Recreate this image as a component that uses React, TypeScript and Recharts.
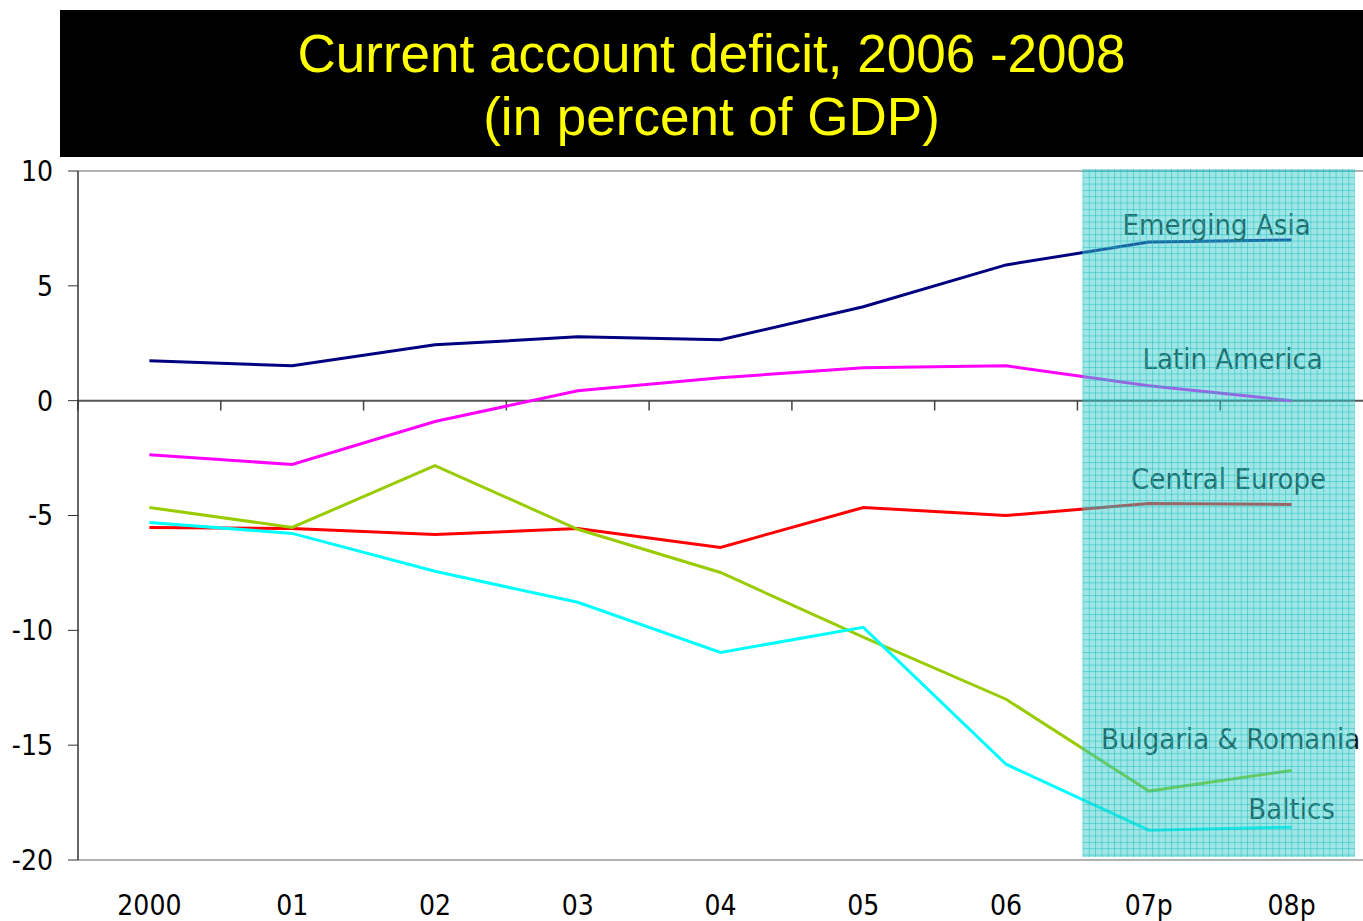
import React from "react";
import {
  LineChart,
  Line,
  XAxis,
  YAxis,
  ReferenceLine,
  ReferenceArea,
  ReferenceDot,
} from "recharts";

const categories = ["2000", "01", "02", "03", "04", "05", "06", "07p", "08p"];
const emergingAsia = [1.74, 1.52, 2.43, 2.78, 2.65, 4.09, 5.91, 6.91, 7.0];
const latinAmerica = [-2.35, -2.78, -0.91, 0.43, 1.0, 1.43, 1.52, 0.65, 0.0];
const centralEurope = [-5.52, -5.57, -5.83, -5.57, -6.39, -4.65, -5.0, -4.48, -4.52];
const bulgariaRomania = [-4.65, -5.52, -2.83, -5.6, -7.48, -10.3, -13.0, -17.0, -16.1];
const baltics = [-5.3, -5.78, -7.43, -8.78, -10.96, -9.87, -15.83, -18.7, -18.57];
const yTicks = [10, 5, 0, -5, -10, -15, -20];

const data = categories.map((c, i) => ({
  cat: c,
  asia: emergingAsia[i],
  latam: latinAmerica[i],
  ce: centralEurope[i],
  br: bulgariaRomania[i],
  baltics: baltics[i],
}));

// series name labels, anchored on the last category
const seriesLabels = [
  { text: "Emerging Asia", y: 7.65, dx: -75 },
  { text: "Latin America", y: 1.83, dx: -59 },
  { text: "Central Europe", y: -3.39, dx: -63 },
  { text: "Bulgaria & Romania", y: -14.74, dx: -61 },
  { text: "Baltics", y: -17.78, dx: 0 },
];

const FONT = "'DejaVu Sans Condensed', 'DejaVu Sans', sans-serif";

export default function App() {
  return (
    <div style={{ position: "absolute", left: 0, top: 0, width: 1363, height: 921, background: "#fff" }}>
      <div
        style={{
          position: "absolute",
          left: 60,
          top: 10,
          width: 1303,
          height: 147,
          background: "#000",
          color: "#ffff00",
          fontFamily: "'Liberation Sans', Arial, sans-serif",
          fontSize: 53,
          lineHeight: "63px",
          textAlign: "center",
          paddingTop: 12,
          boxSizing: "border-box",
          zIndex: 2,
        }}
      >
        Current account deficit, 2006 -2008
        <br />
        (in percent of GDP)
      </div>
      <LineChart
        width={1363}
        height={921}
        data={data}
        margin={{ top: 171, right: 0, bottom: 0, left: 0 }}
      >
        <defs>
          <pattern id="shade" width={6.33} height={6.33} patternUnits="userSpaceOnUse">
            <rect x={0} y={0} width={6.33} height={6.33} fill="rgba(55,202,202,0.47)" />
            <line x1={0} y1={0.5} x2={6.33} y2={0.5} stroke="rgba(20,190,190,0.5)" strokeWidth={1} />
            <line x1={0.5} y1={0} x2={0.5} y2={6.33} stroke="rgba(20,190,190,0.5)" strokeWidth={1} />
          </pattern>
        </defs>
        <XAxis
          dataKey="cat"
          scale="band"
          height={61}
          axisLine={false}
          tickLine={false}
          tickSize={0}
          tickMargin={35}
          interval={0}
          tick={{ fontSize: 28, fill: "#000", fontFamily: FONT, fontStretch: "condensed" }}
        />
        <YAxis
          width={78}
          domain={[-20, 10]}
          ticks={yTicks}
          interval={0}
          axisLine={{ stroke: "#333", strokeWidth: 1.5 }}
          tickLine={{ stroke: "#333" }}
          tickSize={10}
          tickMargin={15}
          tick={{ fontSize: 28, fill: "#000", fontFamily: FONT, fontStretch: "condensed" }}
        />
        <ReferenceLine y={10} stroke="#999" strokeWidth={1.5} />
        <ReferenceLine y={-20} stroke="#999" strokeWidth={1.5} />
        <ReferenceLine y={0} stroke="#555" strokeWidth={2} />
        {categories.map((c) => (
          <ReferenceLine
            key={"t" + c}
            segment={[
              { x: c, y: 0 },
              { x: c, y: -0.43 },
            ]}
            position="start"
            stroke="#444"
            strokeWidth={1.5}
          />
        ))}
        <Line dataKey="asia" stroke="#000080" strokeWidth={3} dot={false} isAnimationActive={false} />
        <Line dataKey="latam" stroke="#ff00ff" strokeWidth={3} dot={false} isAnimationActive={false} />
        <Line dataKey="ce" stroke="#ff0000" strokeWidth={3} dot={false} isAnimationActive={false} />
        <Line dataKey="br" stroke="#99cc00" strokeWidth={3} dot={false} isAnimationActive={false} />
        <Line dataKey="baltics" stroke="#00ffff" strokeWidth={3} dot={false} isAnimationActive={false} />
        {seriesLabels.map((l) => (
          <ReferenceDot
            key={l.text}
            x="08p"
            y={l.y}
            r={0}
            zIndex={450}
            shape={(p: any) => (
              <text
                x={p.cx + l.dx}
                y={p.cy}
                textAnchor="middle"
                dominantBaseline="central"
                fontSize={29}
                fontFamily={FONT}
                fontStretch="condensed"
                fill="#111"
              >
                {l.text}
              </text>
            )}
          />
        ))}
        <ReferenceArea
          x1="07p"
          x2="08p"
          y1={10}
          y2={-20}
          zIndex={1500}
          shape={(p: any) => (
            <rect x={p.x + 5} y={p.y - 2} width={p.width - 13} height={p.height - 1} fill="url(#shade)" />
          )}
        />
      </LineChart>
    </div>
  );
}
